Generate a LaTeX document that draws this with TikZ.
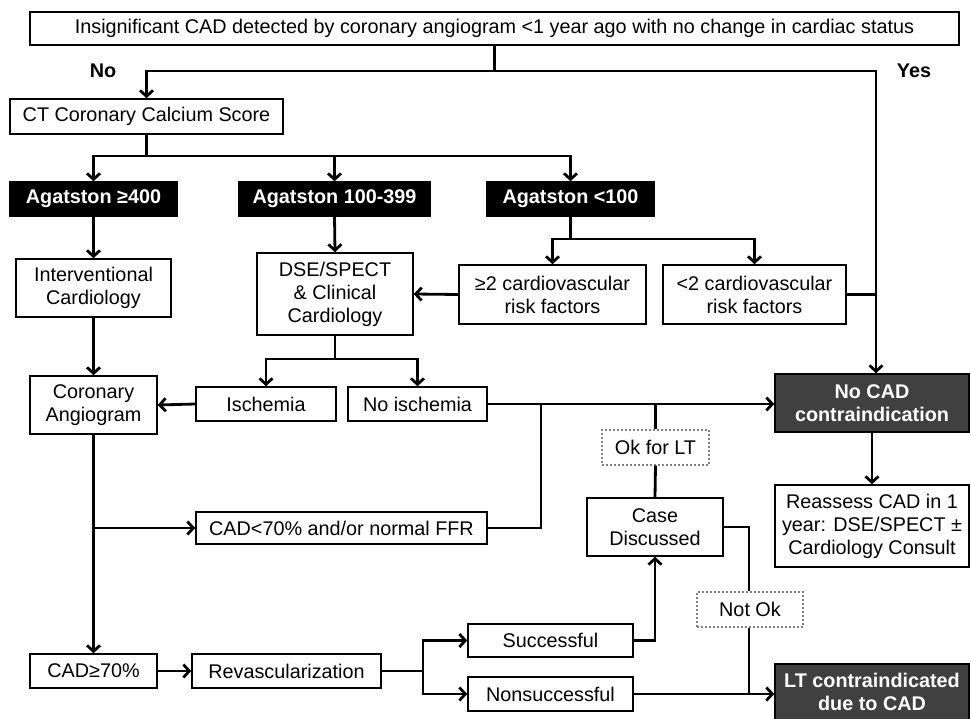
\documentclass[tikz,border=0pt]{standalone}
\usepackage{fontspec}
\setmainfont{Liberation Sans}
\usepackage{xcolor}
\usepackage{tikz}
\usetikzlibrary{
	arrows.meta,    % punte a barba
	calc
}
\definecolor{darkfill}{RGB}{64,64,64}

\begin{document}
\begin{tikzpicture}[x=1pt, y=-1pt,
		font=\fontsize{19.8}{23}\selectfont,
		>={Straight Barb[length=6pt,width=13pt]},
		flow/.style={line width=2.8pt},
		box/.style={draw, line width=1.5pt, fill=white, align=center, inner sep=0pt},
		blackbox/.style={box, fill=black, text=white, font=\fontsize{19.8}{23}\selectfont\bfseries},
		greybox/.style={box, fill=darkfill, text=white, font=\fontsize{19.8}{23}\selectfont\bfseries},
		dotbox/.style={draw=gray, line width=1.4pt, dash pattern=on 2pt off 2pt, fill=white, inner sep=0pt}]
		
		% --- Cornice ---
		\useasboundingbox (0,0) rectangle (971,719);
		
		% --- Nodi ---
		% Domanda iniziale
		\node[box, minimum width=929pt, minimum height=33pt] (top) at (494.5,28.5)
		{Insignificant CAD detected by coronary angiogram <1 year ago with no change in cardiac status};
		\node[font=\fontsize{19.8}{23}\selectfont\bfseries] (no) at (103,71) {No};
		\node[font=\fontsize{19.8}{23}\selectfont\bfseries] (yes) at (914,71) {Yes};
		
		% Calcium score e classi Agatston
		\node[box, minimum width=273pt, minimum height=35pt] (ct) at (146.5,116.5) {CT Coronary Calcium Score};
		\node[blackbox, minimum width=167pt, minimum height=34pt] (ag1) at (93.5,199) {Agatston ≥400};
		\node[blackbox, minimum width=191pt, minimum height=34pt] (ag2) at (334.5,199) {Agatston 100-399};
		\node[blackbox, minimum width=167pt, minimum height=34pt] (ag3) at (570.5,199) {Agatston <100};
		
		% Secondo livello
		\node[box, minimum width=155pt, minimum height=58pt] (ic) at (93.5,288) {Interventional\\Cardiology};
		\node[box, minimum width=156pt, minimum height=82pt] (dse) at (335,294) {DSE/SPECT\\\& Clinical\\Cardiology};
		\node[box, minimum width=187pt, minimum height=59pt] (rf2) at (552.5,294.5) {≥2 cardiovascular\\risk factors};
		\node[box, minimum width=183pt, minimum height=59pt] (rf1) at (754.5,294.5) {<2 cardiovascular\\risk factors};
		
		% Terzo livello
		\node[box, minimum width=127pt, minimum height=58pt] (ca) at (93.5,405) {Coronary\\Angiogram};
		\node[box, minimum width=140pt, minimum height=34pt] (isch) at (266,404) {Ischemia};
		\node[box, minimum width=139pt, minimum height=34pt] (noisch) at (417.5,404) {No ischemia};
		\node[greybox, minimum width=194pt, minimum height=58pt] (nocad) at (872,403) {No CAD\\contraindication};
		
		% Esiti angiografia
		\node[box, minimum width=291pt, minimum height=32pt] (cad70) at (341.5,528) {CAD<70\% and/or normal FFR};
		\node[dotbox, minimum width=107pt, minimum height=35pt] (ok) at (655.5,447.5) {Ok for LT};
		\node[box, minimum width=136pt, minimum height=58pt] (case) at (655,527) {Case\\Discussed};
		\node[box, minimum width=194pt, minimum height=82pt] (reass) at (872,526) {Reassess CAD in 1\\year: DSE/SPECT ±\\Cardiology Consult};
		\node[dotbox, minimum width=106pt, minimum height=35pt] (notok) at (750,609.5) {Not Ok};
		
		% Rivascolarizzazione
		\node[box, minimum width=127pt, minimum height=34pt] (cadge) at (93.5,671) {CAD≥70\%};
		\node[box, minimum width=189pt, minimum height=34pt] (revasc) at (286.5,671) {Revascularization};
		\node[box, minimum width=165pt, minimum height=33pt] (succ) at (550.5,640.5) {Successful};
		\node[box, minimum width=165pt, minimum height=34pt] (nonsucc) at (550.5,694) {Nonsuccessful};
		\node[greybox, minimum width=194pt, minimum height=56pt] (lt) at (872,692) {LT contraindicated\\due to CAD};
		
		% --- Punti di diramazione ---
		\coordinate (split0) at (top.south |- 0,71);
		\coordinate (split1) at (ct.south |- 0,156);
		\coordinate (split2) at (ag3.south |- 0,239);
		\coordinate (split3) at (dse.south |- 0,359);
		\coordinate (split4) at (423,671);
		\coordinate (yesline) at (876,0);
		\coordinate (join1) at (541,404);
		
		% --- Connettori ---
		\draw[flow] (top.south) -- (split0);
		\draw[flow, ->] (split0) -| (ct.north);
		\draw[flow, ->] (split0) -| ($(nocad.north)+(4,0)$);
		
		\draw[flow] (ct.south) -- (split1);
		\draw[flow, ->] (split1) -| (ag1.north);
		\draw[flow, ->] (split1) -| (ag2.north);
		\draw[flow, ->] (split1) -| (ag3.north);
		
		\draw[flow, ->] (ag1.south) -- (ic.north);
		\draw[flow, ->] (ag2.south) -- (dse.north);
		\draw[flow] (ag3.south) -- (split2);
		\draw[flow, ->] (split2) -| (rf2.north);
		\draw[flow, ->] (split2) -| (rf1.north);
		\draw[flow, ->] (rf2.west) -- (dse.east);
		\draw[flow] (rf1.east) -- (rf1.east -| yesline);
		
		\draw[flow, ->] (ic.south) -- (ca.north);
		\draw[flow] (dse.south) -- (split3);
		\draw[flow, ->] (split3) -| (isch.north);
		\draw[flow, ->] (split3) -| (noisch.north);
		\draw[flow, ->] (isch.west) -- (ca.east);
		\draw[flow, ->] (noisch.east) -- (noisch.east -| nocad.west);
		\draw[flow] (cad70.east) -| (join1);
		
		\draw[flow, ->] (nocad.south) -- (reass.north);
		\draw[flow] (ok.north |- nocad.west) -- (ok.north);
		\draw[flow] (ok.south) -- (case.north);
		
		\draw[flow, ->] (ca.south) -- (cadge.north);
		\draw[flow, ->] (ca.south |- cad70.west) -- (cad70.west);
		\draw[flow, ->] (cadge.east) -- (revasc.west);
		\draw[flow] (revasc.east) -- (split4);
		\draw[flow, ->] (split4) |- (succ.west);
		\draw[flow, ->] (split4) |- (nonsucc.west);
		\draw[flow, ->] (succ.east) -| (case.south);
		\draw[flow, ->] (nonsucc.east) -- (nonsucc.east -| lt.west);
		
		\draw[flow] (case.east) -| ($(notok.north)+(-1,0)$);
		\draw[flow] ($(notok.south)+(-1,0)$) -- ($(notok.south |- nonsucc.east)+(-1,0)$);
\end{tikzpicture}
\end{document}
